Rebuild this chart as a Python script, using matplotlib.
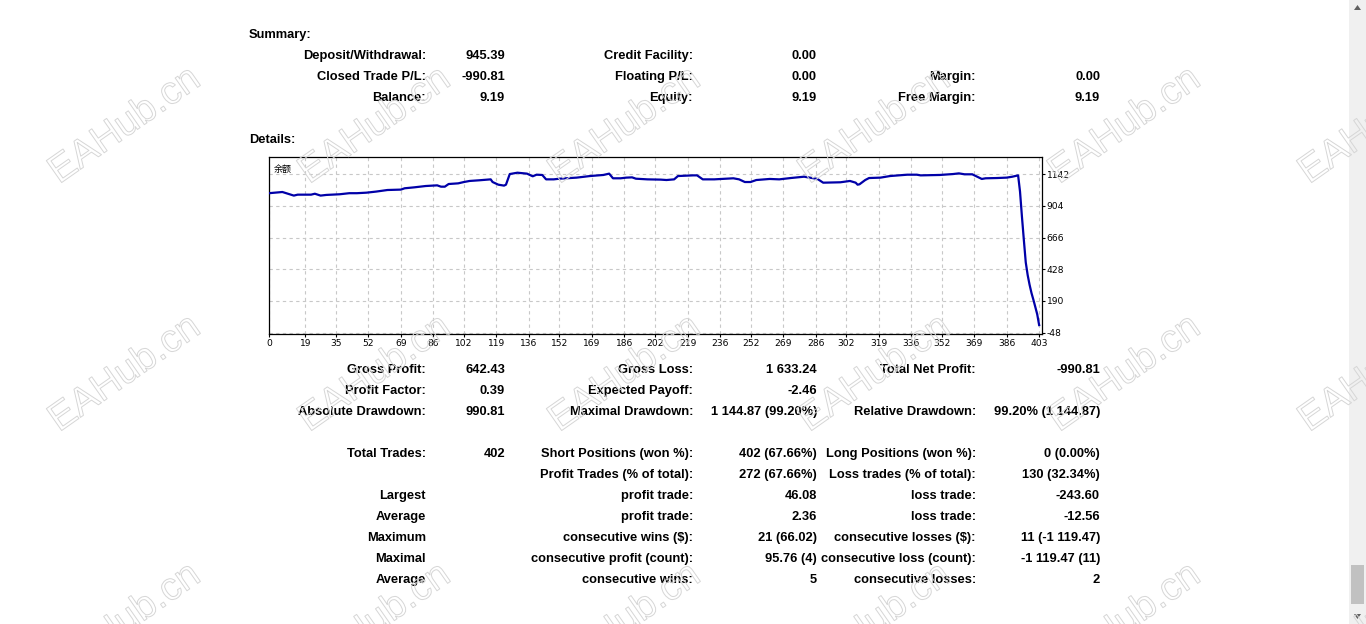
import matplotlib.pyplot as plt
import matplotlib.patheffects as pe
from matplotlib.patches import Rectangle, Polygon

W, H = 1366, 624

# balance curve (trade number -> balance)
trade_no = [0, 7, 9, 13, 15, 22, 24, 27, 30, 37, 42, 46, 51, 56, 62, 69, 71, 76,
            82, 88, 90, 92, 94, 99, 102, 105, 110, 116, 117, 120, 123, 124, 126,
            130, 135, 138, 140, 143, 145, 149, 152, 161, 168, 175, 178, 180, 184,
            187, 190, 192, 198, 205, 208, 212, 214, 222, 224, 227, 233, 243, 246,
            249, 252, 255, 262, 267, 273, 280, 285, 287, 290, 299, 304, 307, 308,
            309, 312, 314, 320, 325, 334, 339, 341, 351, 358, 361, 364, 368, 373,
            375, 381, 386, 389, 392, 393, 394, 395, 396, 397, 398, 399, 400, 401,
            402, 403]
balance = [1000, 1009, 1000, 982, 989, 989, 996, 982, 987, 992, 1000, 1000, 1004,
           1012, 1024, 1027, 1037, 1044, 1054, 1059, 1049, 1049, 1069, 1074, 1084,
           1092, 1097, 1104, 1084, 1064, 1057, 1064, 1144, 1154, 1147, 1127, 1139,
           1137, 1104, 1104, 1109, 1117, 1129, 1137, 1147, 1112, 1112, 1117, 1119,
           1109, 1104, 1102, 1099, 1104, 1129, 1134, 1134, 1104, 1104, 1112, 1104,
           1084, 1084, 1099, 1107, 1104, 1114, 1124, 1112, 1107, 1079, 1082, 1092,
           1079, 1064, 1067, 1099, 1114, 1117, 1129, 1139, 1139, 1134, 1137, 1144,
           1149, 1142, 1142, 1107, 1112, 1114, 1117, 1124, 1134, 1012, 824, 649,
           480, 385, 312, 250, 199, 145, 90, 9.19]

x_labels = [0, 19, 35, 52, 69, 86, 102, 119, 136, 152, 169, 186, 202, 219, 236,
            252, 269, 286, 302, 319, 336, 352, 369, 386, 403]
y_labels = [-48, 190, 428, 666, 904, 1142]

summary_rows = [
    ("Deposit/Withdrawal:", "945.39", "Credit Facility:", "0.00", "", ""),
    ("Closed Trade P/L:", "-990.81", "Floating P/L:", "0.00", "Margin:", "0.00"),
    ("Balance:", "9.19", "Equity:", "9.19", "Free Margin:", "9.19"),
]
detail_rows = [
    ("Gross Profit:", "642.43", "Gross Loss:", "1 633.24", "Total Net Profit:", "-990.81"),
    ("Profit Factor:", "0.39", "Expected Payoff:", "-2.46", "", ""),
    ("Absolute Drawdown:", "990.81", "Maximal Drawdown:", "1 144.87 (99.20%)",
     "Relative Drawdown:", "99.20% (1 144.87)"),
    None,
    ("Total Trades:", "402", "Short Positions (won %):", "402 (67.66%)",
     "Long Positions (won %):", "0 (0.00%)"),
    ("", "", "Profit Trades (% of total):", "272 (67.66%)",
     "Loss trades (% of total):", "130 (32.34%)"),
    ("Largest", "", "profit trade:", "46.08", "loss trade:", "-243.60"),
    ("Average", "", "profit trade:", "2.36", "loss trade:", "-12.56"),
    ("Maximum", "", "consecutive wins ($):", "21 (66.02)",
     "consecutive losses ($):", "11 (-1 119.47)"),
    ("Maximal", "", "consecutive profit (count):", "95.76 (4)",
     "consecutive loss (count):", "-1 119.47 (11)"),
    ("Average", "", "consecutive wins:", "5", "consecutive losses:", "2"),
]

FONT = "Liberation Sans"
FS = 9.3
COL_RIGHT = [426, 505, 693, 817, 976, 1100]


def fx(px):
    return px / W


def fy(py):
    return 1 - py / H


fig = plt.figure(figsize=(W / 100, H / 100), dpi=100)
fig.patch.set_facecolor("white")


# text tables (baseline sits 5px under the row centre)
def put(x, y, s, ha="right"):
    fig.text(fx(x), fy(y + 5), s, ha=ha, va="baseline", fontsize=FS,
             fontweight="bold", family=FONT, zorder=5)


put(249, 33, "Summary:", ha="left")
for k, row in enumerate(summary_rows):
    for i, s in enumerate(row):
        if s:
            put(COL_RIGHT[i], 54 + 21 * k, s)
put(249, 138, "Details:", ha="left")
for k, row in enumerate(detail_rows):
    if row is None:
        continue
    for i, s in enumerate(row):
        if s:
            put(COL_RIGHT[i], 368 + 21 * k, s)

# balance chart
ax = fig.add_axes([fx(269), fy(334), fx(1042) - fx(269), fy(157) - fy(334)])
ax.set_facecolor("white")
ax.plot(trade_no, balance, color="#0000a8", linewidth=1.6, zorder=3)
ax.set_xlim(0, 404.5)
ax.set_ylim(-58, 1272)
ax.set_xticks(x_labels)
ax.set_xticklabels([str(v) for v in x_labels])
ax.set_yticks(y_labels)
ax.set_yticklabels([str(v) for v in y_labels])
ax.yaxis.tick_right()
ax.tick_params(axis="both", labelsize=6.6, length=2, width=0.8, pad=1.5,
               colors="black")
ax.grid(True, color="#c8c8c8", linestyle=(0, (3, 3)), linewidth=0.8)
for sp in ax.spines.values():
    sp.set_color("black")
    sp.set_linewidth(0.9)
ax.text(0.006, 0.93, "余额", transform=ax.transAxes, fontsize=6.5,
        family=["Noto Sans CJK SC", "DejaVu Sans"], ha="left", va="center")

# watermark: outline only, laid over everything
for cy in [126, 374, 622]:
    for cx in [125, 375, 625, 875, 1125, 1375]:
        fig.text(fx(cx), fy(cy), "EAHub.cn", fontsize=28, family=FONT,
                 color=(1, 1, 1, 0), rotation=35, ha="center", va="center",
                 rotation_mode="anchor", zorder=20,
                 path_effects=[pe.Stroke(linewidth=0.7, foreground="#d6d6d6")])

# scrollbar
fig.patches.append(Rectangle((fx(1349), 0), fx(17), 1, transform=fig.transFigure,
                             facecolor="#f0f0f0", edgecolor="none", zorder=1))
fig.patches.append(Rectangle((fx(1351), fy(604)), fx(13), fy(565) - fy(604),
                             transform=fig.transFigure, facecolor="#c1c1c1",
                             edgecolor="none", zorder=2))
fig.patches.append(Polygon([(fx(1354), fy(10)), (fx(1361), fy(10)), (fx(1357.5), fy(5))],
                           closed=True, transform=fig.transFigure,
                           facecolor="#606060", edgecolor="none", zorder=2))
fig.patches.append(Polygon([(fx(1354), fy(614)), (fx(1361), fy(614)), (fx(1357.5), fy(619))],
                           closed=True, transform=fig.transFigure,
                           facecolor="#606060", edgecolor="none", zorder=2))

fig.savefig("out.png", dpi=100, facecolor="white")
